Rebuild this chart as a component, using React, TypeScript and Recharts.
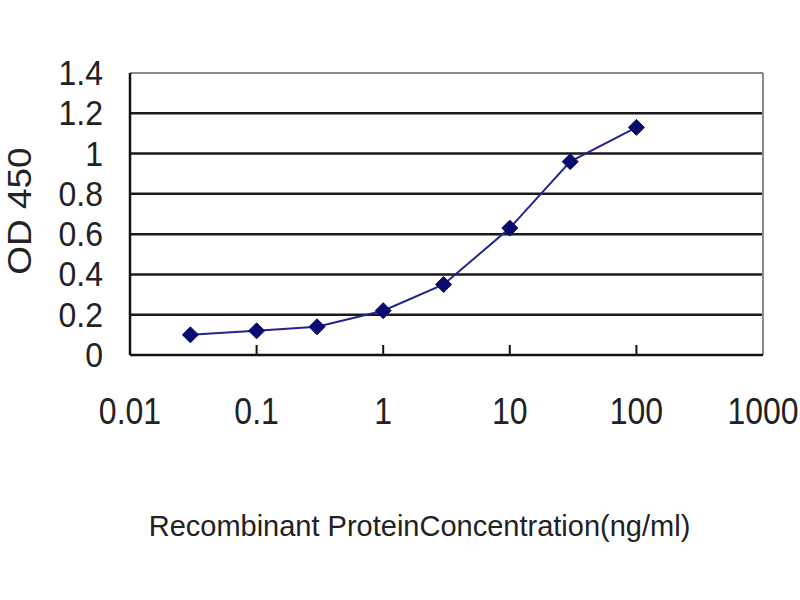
import React from "react";
import {
  LineChart,
  Line,
  XAxis,
  YAxis,
  CartesianGrid,
  ReferenceLine,
} from "recharts";

// concentration (ng/ml) and OD 450 readings
const concentrations = [0.03, 0.1, 0.3, 1, 3, 10, 30, 100];
const odValues = [0.1, 0.12, 0.14, 0.22, 0.35, 0.63, 0.96, 1.13];

const xTicks = [0.01, 0.1, 1, 10, 100, 1000];
const xTickLabels = ["0.01", "0.1", "1", "10", "100", "1000"];
const yTicks = [0, 0.2, 0.4, 0.6, 0.8, 1, 1.2, 1.4];
const yTickLabels = ["0", "0.2", "0.4", "0.6", "0.8", "1", "1.2", "1.4"];
const innerGridValues = [0.2, 0.4, 0.6, 0.8, 1, 1.2];

const FONT = "'Liberation Sans', Arial, sans-serif";

const data = concentrations.map((c, i) => ({ conc: c, od: odValues[i] }));

function XTick({ x, y, payload }: any) {
  const idx = xTicks.indexOf(payload.value);
  const inner = payload.value > 0.01 && payload.value < 1000;
  return (
    <g>
      {inner && <line x1={x} x2={x} y1={y} y2={y - 10} stroke="#111" strokeWidth={2} />}
      <text
        transform={`translate(${x},${y + 56}) scale(1,1.15)`}
        textAnchor="middle"
        dominantBaseline="central"
        fontFamily={FONT}
        fontSize={32}
        fill="#222"
      >
        {idx >= 0 ? xTickLabels[idx] : payload.value}
      </text>
    </g>
  );
}

function YTick({ x, y, payload }: any) {
  const idx = yTicks.indexOf(payload.value);
  return (
    <text
      transform={`translate(${x},${y}) scale(1,1.1)`}
      textAnchor="end"
      dominantBaseline="central"
      fontFamily={FONT}
      fontSize={32}
      fill="#222"
    >
      {idx >= 0 ? yTickLabels[idx] : payload.value}
    </text>
  );
}

function YTitle({ viewBox }: any) {
  const cx = viewBox.x + 19;
  const cy = viewBox.y + viewBox.height / 2 - 3;
  return (
    <text
      transform={`translate(${cx},${cy}) rotate(-90) scale(1.12,1)`}
      textAnchor="middle"
      dominantBaseline="central"
      fontFamily={FONT}
      fontSize={33}
      fill="#222"
    >
      OD 450
    </text>
  );
}

function Diamond({ cx, cy }: any) {
  if (cx == null || cy == null) return null;
  const r = 8;
  return (
    <path
      d={`M${cx},${cy - r} L${cx + r},${cy} L${cx},${cy + r} L${cx - r},${cy} Z`}
      fill="#0a0a70"
      stroke="#0a0a70"
    />
  );
}

export default function App() {
  return (
    <div style={{ position: "absolute", left: 0, top: 0, width: 800, height: 600, background: "#fff" }}>
      <LineChart
        width={800}
        height={600}
        data={data}
        margin={{ top: 73, right: 37, left: 0, bottom: 0 }}
      >
        <CartesianGrid
          vertical={false}
          horizontalValues={innerGridValues}
          stroke="#1a1a1a"
          strokeWidth={2.5}
        />
        <ReferenceLine y={1.4} stroke="#8a8a8a" strokeWidth={2} />
        <ReferenceLine x={1000} stroke="#8a8a8a" strokeWidth={2} />
        <XAxis
          dataKey="conc"
          type="number"
          scale="log"
          domain={[0.01, 1000]}
          ticks={xTicks}
          allowDataOverflow
          height={245}
          axisLine={{ stroke: "#111", strokeWidth: 2.5 }}
          tickLine={false}
          tickSize={0}
          tickMargin={0}
          tick={<XTick />}
          interval={0}
          label={{
            value: "Recombinant ProteinConcentration(ng/ml)",
            position: "insideTop",
            offset: 160,
            dx: -27,
            fontFamily: FONT,
            fontSize: 29,
            fill: "#222",
          }}
        />
        <YAxis
          type="number"
          domain={[0, 1.4]}
          ticks={yTicks}
          width={130}
          axisLine={{ stroke: "#111", strokeWidth: 2.5 }}
          tickLine={false}
          tickSize={0}
          tickMargin={27}
          tick={<YTick />}
          interval={0}
          label={<YTitle />}
        />
        <Line
          type="linear"
          dataKey="od"
          stroke="#24248f"
          strokeWidth={2}
          dot={<Diamond />}
          isAnimationActive={false}
        />
      </LineChart>
    </div>
  );
}
